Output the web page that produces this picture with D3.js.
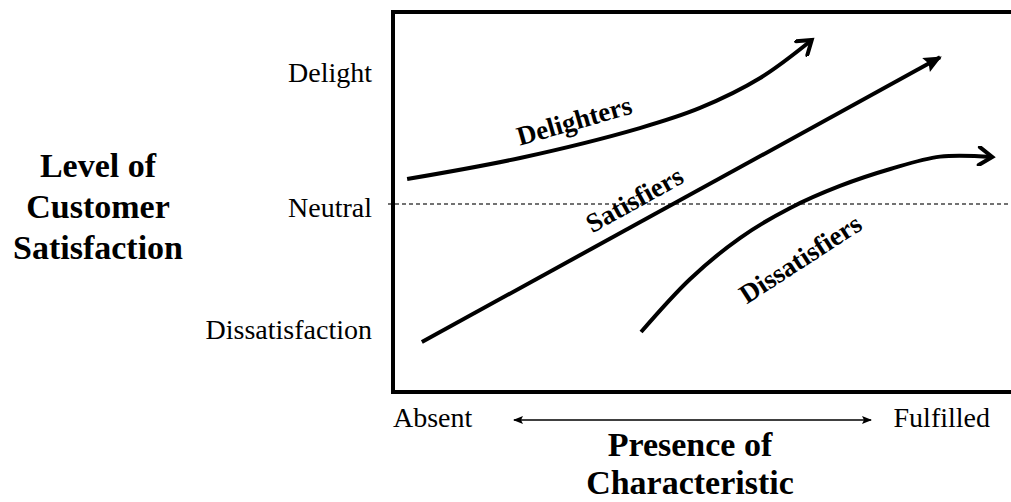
<!DOCTYPE html>
<html>
<head>
<meta charset="utf-8">
<script src="https://cdn.jsdelivr.net/npm/d3@7"></script>
<style>
  body { margin: 0; background: #fff; }
  svg { display: block; font-family: "Liberation Serif", "Times New Roman", serif; }
</style>
</head>
<body>
<svg id="chart" width="1011" height="502"></svg>
<script>
// satisfaction levels (y) and presence ends (x)
var levelLabels = ["Delight", "Neutral", "Dissatisfaction"];
var levelValues = [0.7, -0.02, -0.67];
var presenceLabels = ["Absent", "Fulfilled"];
var yTitle = ["Level of", "Customer", "Satisfaction"];
var xTitle = ["Presence of", "Characteristic"];

// curves: [presence 0-100, satisfaction -1..1]
var seriesNames = ["Delighters", "Satisfiers", "Dissatisfiers"];
var delighters = [[2.3, 0.133], [20.7, 0.245], [40.2, 0.404], [50, 0.511], [59.8, 0.67], [68.2, 0.872]];
var satisfiers = [[4.7, -0.734], [89.1, 0.78]];
var dissatisfiers = [[40.4, -0.681], [48.4, -0.399], [56.5, -0.181], [64.7, -0.021], [72.8, 0.096], [81.0, 0.186], [89.1, 0.252], [97.6, 0.25]];
var seriesData = [delighters, satisfiers, dissatisfiers];

var svg = d3.select("#chart");

var x = d3.scaleLinear().domain([0, 100]).range([393, 1007]);
var y = d3.scaleLinear().domain([-1, 1]).range([392, 16]);

// markers
var defs = svg.append("defs");
defs.append("marker")
    .attr("id", "openHead")
    .attr("markerUnits", "userSpaceOnUse")
    .attr("viewBox", "-16 -10 20 20")
    .attr("refX", 0).attr("refY", 0)
    .attr("markerWidth", 20).attr("markerHeight", 20)
    .attr("orient", "auto")
    .append("path")
    .attr("d", "M-13,-9 L0,0 L-13,9")
    .attr("fill", "none")
    .attr("stroke", "#000")
    .attr("stroke-width", 4)
    .attr("stroke-linecap", "round")
    .attr("stroke-linejoin", "miter");

defs.append("marker")
    .attr("id", "fillHead")
    .attr("markerUnits", "userSpaceOnUse")
    .attr("viewBox", "-18 -10 20 20")
    .attr("refX", 0).attr("refY", 0)
    .attr("markerWidth", 20).attr("markerHeight", 20)
    .attr("orient", "auto")
    .append("path")
    .attr("d", "M2,0 L-16,-8 L-13,0 L-16,8 Z")
    .attr("fill", "#000");

defs.append("marker")
    .attr("id", "smallHead")
    .attr("markerUnits", "userSpaceOnUse")
    .attr("viewBox", "-10 -5 12 10")
    .attr("refX", 0).attr("refY", 0)
    .attr("markerWidth", 12).attr("markerHeight", 10)
    .attr("orient", "auto-start-reverse")
    .append("path")
    .attr("d", "M1,0 L-9,-4 L-7,0 L-9,4 Z")
    .attr("fill", "#000");

// neutral dashed line
svg.append("line")
    .attr("x1", 388).attr("x2", 1011)
    .attr("y1", y(0)).attr("y2", y(0))
    .attr("stroke", "#444")
    .attr("stroke-width", 1.3)
    .attr("stroke-dasharray", "4,3");

// frame
svg.append("rect")
    .attr("x", 393).attr("y", 12)
    .attr("width", 622).attr("height", 380)
    .attr("fill", "none")
    .attr("stroke", "#000")
    .attr("stroke-width", 4);

// curves
var line = d3.line()
    .x(function(d) { return x(d[0]); })
    .y(function(d) { return y(d[1]); })
    .curve(d3.curveCatmullRom.alpha(0.5));

svg.selectAll("path.curve")
    .data(seriesData)
    .enter().append("path")
    .attr("class", "curve")
    .attr("d", line)
    .attr("fill", "none")
    .attr("stroke", "#000")
    .attr("stroke-width", 4)
    .attr("marker-end", function(d, i) { return i == 1 ? "url(#fillHead)" : "url(#openHead)"; });

// curve labels
var labelPos = [[29.5, 0.445, -16], [39.3, 0.025, -29], [66.3, -0.29, -33]];
svg.selectAll("text.curveLabel")
    .data(seriesNames)
    .enter().append("text")
    .attr("class", "curveLabel")
    .attr("transform", function(d, i) {
        return "translate(" + x(labelPos[i][0]) + "," + y(labelPos[i][1]) + ") rotate(" + labelPos[i][2] + ")";
    })
    .attr("text-anchor", "middle")
    .attr("dy", "0.35em")
    .attr("font-weight", "bold")
    .attr("font-size", 27)
    .text(function(d) { return d; });

// level labels
svg.selectAll("text.level")
    .data(levelLabels)
    .enter().append("text")
    .attr("class", "level")
    .attr("x", 372)
    .attr("y", function(d, i) { return y(levelValues[i]); })
    .attr("dy", "0.33em")
    .attr("text-anchor", "end")
    .attr("font-size", 28)
    .text(function(d) { return d; });

// y title
svg.selectAll("text.ytitle")
    .data(yTitle)
    .enter().append("text")
    .attr("class", "ytitle")
    .attr("x", 98)
    .attr("y", function(d, i) { return 177 + i * 41; })
    .attr("text-anchor", "middle")
    .attr("font-weight", "bold")
    .attr("font-size", 34)
    .text(function(d) { return d; });

// presence axis
svg.append("text")
    .attr("x", 393).attr("y", 427)
    .attr("font-size", 28)
    .text(presenceLabels[0]);
svg.append("text")
    .attr("x", 990).attr("y", 427)
    .attr("text-anchor", "end")
    .attr("font-size", 28)
    .text(presenceLabels[1]);

svg.append("line")
    .attr("x1", 514).attr("x2", 871)
    .attr("y1", 420).attr("y2", 420)
    .attr("stroke", "#000")
    .attr("stroke-width", 1.5)
    .attr("marker-start", "url(#smallHead)")
    .attr("marker-end", "url(#smallHead)");

svg.selectAll("text.xtitle")
    .data(xTitle)
    .enter().append("text")
    .attr("class", "xtitle")
    .attr("x", 690)
    .attr("y", function(d, i) { return 456 + i * 38; })
    .attr("text-anchor", "middle")
    .attr("font-weight", "bold")
    .attr("font-size", 34)
    .text(function(d) { return d; });
</script>
</body>
</html>
